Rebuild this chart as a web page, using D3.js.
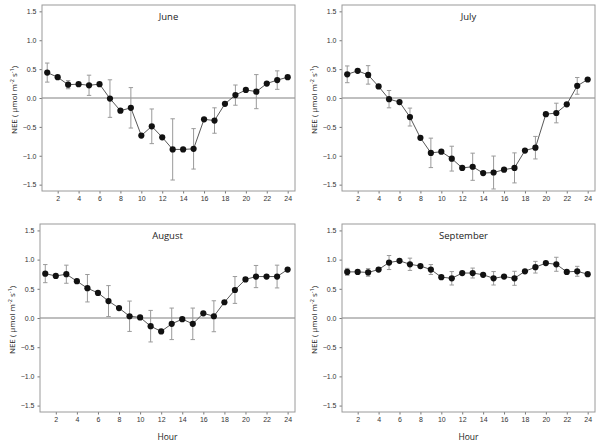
<!DOCTYPE html>
<html>
<head>
<meta charset="utf-8">
<script src="https://cdn.jsdelivr.net/npm/d3@7"></script>
<style>
  body { margin: 0; background: #fff; }
  svg { font-family: "Open Sans", "Noto Sans", sans-serif; }
</style>
</head>
<body>
<svg id="chart" width="600" height="446"></svg>
<script>
'use strict';
// hourly mean NEE per month, error bars only on odd hours
const hours = d3.range(1, 25);
const months = ["June", "July", "August", "September"];

const juneNEE = [0.44, 0.36, 0.23, 0.24, 0.22, 0.24, -0.01, -0.22, -0.17, -0.65, -0.49, -0.68,
                 -0.89, -0.89, -0.88, -0.37, -0.39, -0.10, 0.05, 0.14, 0.11, 0.25, 0.31, 0.36];
const juneErr = [0.165, null, 0.07, null, 0.175, null, 0.325, null, 0.35, null, 0.30, null,
                 0.53, null, 0.35, null, 0.22, null, 0.175, null, 0.295, null, 0.16, null];

const julyNEE = [0.41, 0.47, 0.40, 0.20, -0.02, -0.07, -0.33, -0.69, -0.95, -0.93, -1.05, -1.21,
                 -1.19, -1.30, -1.29, -1.24, -1.21, -0.91, -0.86, -0.28, -0.26, -0.11, 0.21, 0.32];
const julyErr = [0.145, null, 0.16, null, 0.15, null, 0.155, null, 0.255, null, 0.215, null,
                 0.235, null, 0.285, null, 0.26, null, 0.195, null, 0.17, null, 0.145, null];

const augNEE = [0.76, 0.72, 0.75, 0.63, 0.51, 0.43, 0.29, 0.17, 0.03, 0.01, -0.14, -0.23,
                -0.10, -0.02, -0.10, 0.08, 0.03, 0.27, 0.48, 0.66, 0.71, 0.71, 0.71, 0.83];
const augErr = [0.155, null, 0.155, null, 0.235, null, 0.265, null, 0.26, null, 0.27, null,
                0.27, null, 0.27, null, 0.265, null, 0.23, null, 0.19, null, 0.195, null];

const sepNEE = [0.79, 0.79, 0.78, 0.83, 0.95, 0.98, 0.92, 0.89, 0.83, 0.70, 0.68, 0.77,
                0.77, 0.74, 0.68, 0.71, 0.68, 0.80, 0.87, 0.94, 0.92, 0.79, 0.80, 0.75];
const sepErr = [0.06, null, 0.065, null, 0.12, null, 0.105, null, 0.085, null, 0.115, null,
                0.085, null, 0.115, null, 0.12, null, 0.10, null, 0.12, null, 0.085, null];

const yTicks = [-1.5, -1.0, -0.5, 0.0, 0.5, 1.0, 1.5];
const xTicks = d3.range(2, 25, 2);

const series = [juneNEE, julyNEE, augNEE, sepNEE];
const errors = [juneErr, julyErr, augErr, sepErr];

// panel boxes: [left, top, right, bottom]
const boxes = [[42, 5, 295, 191], [342, 5, 595, 191], [40, 224, 295, 412], [342, 224, 595, 412]];

const svg = d3.select("#chart");
const gray = "#9a9a9a";

months.forEach((name, i) => {
  const [l, t, r, b] = boxes[i];
  const x = d3.scaleLinear().domain([0.5, 24.7]).range([l, r]);
  const y = d3.scaleLinear().domain([-1.61, 1.61]).range([b, t]);
  const g = svg.append("g");

  const rows = hours.map((h, k) => ({h: h, v: series[i][k], e: errors[i][k]}));

  // zero line
  g.append("line")
    .attr("x1", l).attr("x2", r)
    .attr("y1", y(0)).attr("y2", y(0))
    .attr("stroke", i === 2 ? "#a8a8a8" : "#808080")
    .attr("stroke-width", i === 2 ? 1.6 : 1);

  // axes
  const xAxis = d3.axisBottom(x).tickValues(xTicks).tickSize(2.5).tickPadding(3)
    .tickFormat(d3.format("d"));
  const yAxis = d3.axisLeft(y).tickValues(yTicks).tickSize(2.5).tickPadding(3)
    .tickFormat(d3.format(".1f"));

  const gx = g.append("g").attr("transform", `translate(0,${b})`).call(xAxis);
  const gy = g.append("g").attr("transform", `translate(${l},0)`).call(yAxis);
  [gx, gy].forEach(a => {
    a.select(".domain").remove();
    a.selectAll(".tick line").attr("stroke", "#777");
    a.selectAll(".tick text").attr("fill", "#333").style("font-size", "7px");
  });

  // frame
  g.append("rect")
    .attr("x", l).attr("y", t).attr("width", r - l).attr("height", b - t)
    .attr("fill", "none").attr("stroke", gray).attr("stroke-width", 1);

  // error bars
  const eb = g.append("g").selectAll("g")
    .data(rows.filter(d => d.e != null))
    .join("g")
    .attr("stroke", gray).attr("stroke-width", 1);
  eb.append("line")
    .attr("x1", d => x(d.h)).attr("x2", d => x(d.h))
    .attr("y1", d => y(d.v + d.e)).attr("y2", d => y(d.v - d.e));
  eb.append("line")
    .attr("x1", d => x(d.h) - 2.2).attr("x2", d => x(d.h) + 2.2)
    .attr("y1", d => y(d.v + d.e)).attr("y2", d => y(d.v + d.e));
  eb.append("line")
    .attr("x1", d => x(d.h) - 2.2).attr("x2", d => x(d.h) + 2.2)
    .attr("y1", d => y(d.v - d.e)).attr("y2", d => y(d.v - d.e));

  // connecting line
  g.append("path")
    .datum(rows)
    .attr("fill", "none")
    .attr("stroke", "#444")
    .attr("stroke-width", 0.9)
    .attr("d", d3.line().x(d => x(d.h)).y(d => y(d.v)));

  // points
  g.append("g").selectAll("circle")
    .data(rows)
    .join("circle")
    .attr("cx", d => x(d.h)).attr("cy", d => y(d.v))
    .attr("r", 3.1)
    .attr("fill", "#111");

  // month title
  g.append("text")
    .attr("x", (l + r) / 2 + (i === 3 ? -5 : 0))
    .attr("y", t + 15)
    .attr("text-anchor", "middle")
    .attr("fill", "#222")
    .style("font-size", "9.5px")
    .text(name);

  // y label
  const yl = g.append("text")
    .attr("transform", `translate(${l - 25},${(t + b) / 2 + 2}) rotate(-90)`)
    .attr("text-anchor", "middle")
    .attr("fill", "#222")
    .style("font-size", "8px");
  yl.append("tspan").text("NEE (  \u03bcmol m");
  yl.append("tspan").attr("dy", -3).style("font-size", "5.5px").text("-2");
  yl.append("tspan").attr("dy", 3).text(" s");
  yl.append("tspan").attr("dy", -3).style("font-size", "5.5px").text("-1");
  yl.append("tspan").attr("dy", 3).text(")");

  // x label on bottom row
  if (i >= 2) {
    g.append("text")
      .attr("x", (l + r) / 2)
      .attr("y", 440)
      .attr("text-anchor", "middle")
      .attr("fill", "#222")
      .style("font-size", "8.5px")
      .text("Hour");
  }
});
</script>
</body>
</html>
